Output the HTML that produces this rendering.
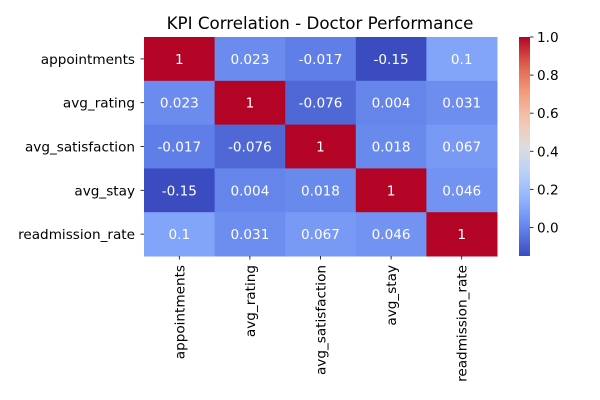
<!DOCTYPE html>
<html><head><meta charset="utf-8"><style>
html,body{margin:0;padding:0;background:#fff}
svg{display:block;font-family:"DejaVu Sans","Liberation Sans",sans-serif}
</style></head><body>
<svg id="chart" width="600" height="400" viewBox="0 0 600 400">
<text x="320" y="29" font-size="16.7" text-anchor="middle" fill="#000">KPI Correlation - Doctor Performance</text>
<g id="cells"></g>
<g id="ylabels"></g>
<g id="xlabels"></g>
<defs><linearGradient id="cbgrad" x1="0" y1="1" x2="0" y2="0"></linearGradient></defs>
<rect x="519" y="37" width="11" height="219" fill="url(#cbgrad)"/>
<g id="cbticks"></g>
</svg>
<script>
const labels = ["appointments","avg_rating","avg_satisfaction","avg_stay","readmission_rate"];
const row0 = [1, 0.023, -0.017, -0.15, 0.1];
const row1 = [0.023, 1, -0.076, 0.004, 0.031];
const row2 = [-0.017, -0.076, 1, 0.018, 0.067];
const row3 = [-0.15, 0.004, 0.018, 1, 0.046];
const row4 = [0.1, 0.031, 0.067, 0.046, 1];
const cbTicks = [0.0, 0.2, 0.4, 0.6, 0.8, 1.0];
const vmin = -0.15, vmax = 1;

const matrix = [row0,row1,row2,row3,row4];
const NS = "http://www.w3.org/2000/svg";
const X0 = 144, X1 = 497, Y0 = 37, Y1 = 256;
const FS = 13.6;
const n = labels.length;
const cw = (X1-X0)/n, ch = (Y1-Y0)/n;
const stops = [[0,[58,76,192]],[0.125,[98,130,234]],[0.25,[141,176,254]],[0.375,[184,208,249]],[0.5,[221,221,221]],[0.625,[245,196,173]],[0.75,[244,154,123]],[0.875,[222,96,77]],[1,[180,4,38]]];
function cmap(t){
  t=Math.max(0,Math.min(1,t));
  for(let i=1;i<stops.length;i++){
    if(t<=stops[i][0]){
      const a=stops[i-1],b=stops[i],f=(t-a[0])/(b[0]-a[0]);
      const c=a[1].map((v,k)=>Math.round(v+(b[1][k]-v)*f));
      return `rgb(${c[0]},${c[1]},${c[2]})`;
    }
  }
  return "rgb(180,4,38)";
}
function norm(v){return (v-vmin)/(vmax-vmin);}
function el(tag,attrs,parent){const e=document.createElementNS(NS,tag);for(const k in attrs)e.setAttribute(k,attrs[k]);parent.appendChild(e);return e;}
const cells=document.getElementById('cells');
matrix.forEach((row,r)=>{
  row.forEach((v,c)=>{
    const rect=el('rect',{x:X0+c*cw,y:Y0+r*ch,width:cw+0.5,height:ch+0.5,fill:cmap(norm(v))},cells);
    
    
    const t=el('text',{x:X0+(c+0.5)*cw,y:Y0+(r+0.5)*ch+5,'font-size':FS,'text-anchor':'middle',fill:'#fff'},cells);
    t.textContent=String(v);
    
    
  });
});
const yl=document.getElementById('ylabels'), xl=document.getElementById('xlabels');
labels.forEach((lab,i)=>{
  const y=Y0+(i+0.5)*ch;
  el('line',{x1:X0-3.5,x2:X0,y1:y,y2:y,stroke:'#000','stroke-width':0.8},yl);
  const t=el('text',{x:X0-9,y:y+5,'font-size':FS,'text-anchor':'end',fill:'#000'},yl);
  t.textContent=lab;
  
  
  const x=X0+(i+0.5)*cw;
  el('line',{x1:x,x2:x,y1:Y1,y2:Y1+3.5,stroke:'#000','stroke-width':0.8},xl);
  const tx=el('text',{x:0,y:0,'font-size':FS,'text-anchor':'end',fill:'#000',transform:`translate(${x+5},${Y1+9}) rotate(-90)`},xl);
  tx.textContent=lab;
  
  
});
const grad=document.getElementById('cbgrad');
for(let i=0;i<=20;i++){const f=i/20;el('stop',{offset:f,'stop-color':cmap(f)},grad);}
const cbt=document.getElementById('cbticks');
cbTicks.forEach(v=>{
  const y=Y1-norm(v)*(Y1-Y0);
  el('line',{x1:530,x2:533.5,y1:y,y2:y,stroke:'#000','stroke-width':0.8},cbt);
  const t=el('text',{x:537,y:y+5,'font-size':FS,fill:'#000'},cbt);
  t.textContent=v.toFixed(1);
  
  
});
</script>
</body></html>
